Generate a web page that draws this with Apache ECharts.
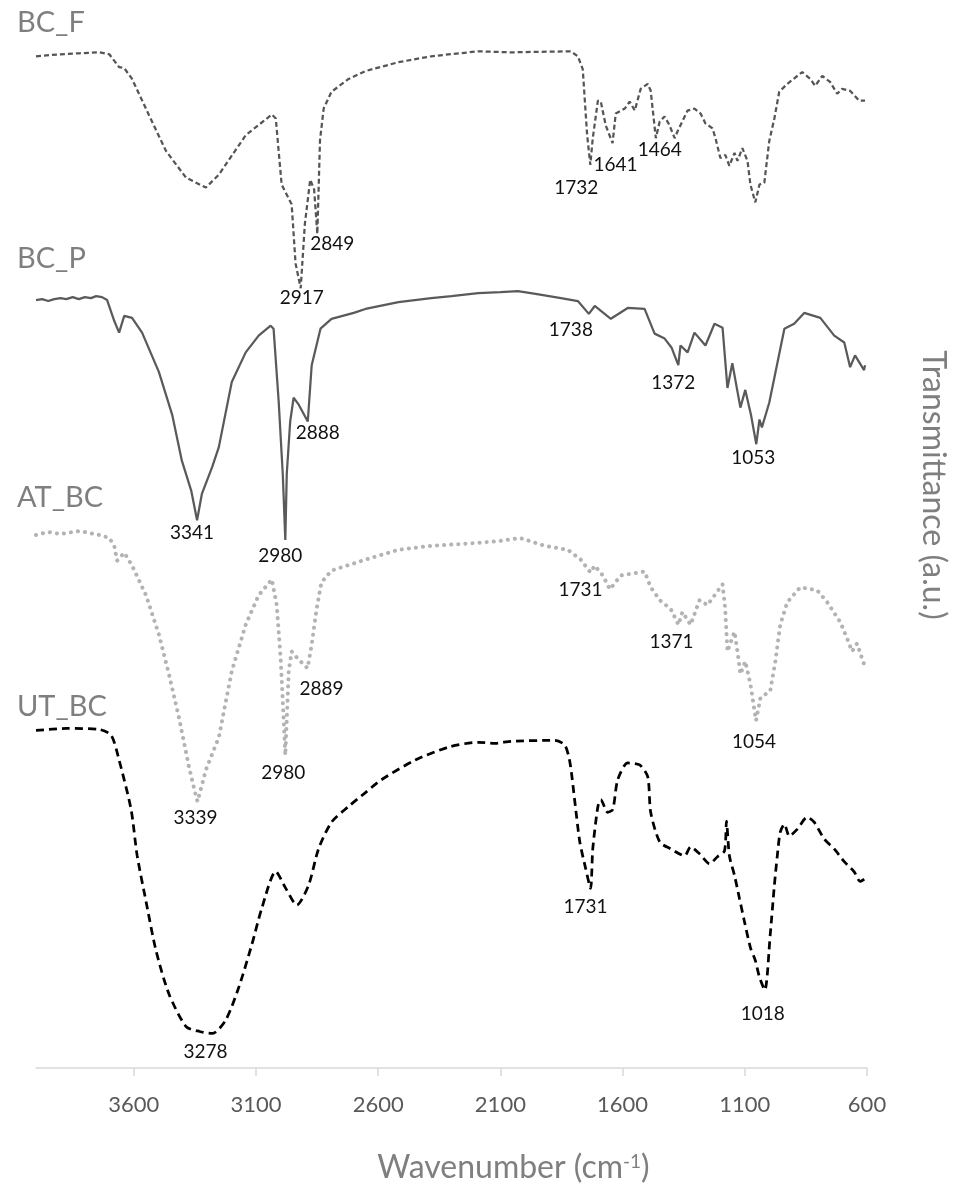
<!DOCTYPE html>
<html>
<head>
<meta charset="utf-8">
<title>FTIR spectra</title>
<script src="https://cdn.jsdelivr.net/npm/echarts@6/dist/echarts.min.js"></script>
<style>
  html, body { margin: 0; padding: 0; background: #ffffff; }
  #chart { width: 957px; height: 1189px; }
</style>
</head>
<body>
<div id="chart"></div>
<script>
// FTIR transmittance spectra, stacked with a vertical offset (a.u.), wavenumber in cm-1.
const seriesNames = ['BC_F', 'BC_P', 'AT_BC', 'UT_BC'];

const BC_F = [
  [4000,102.5],[3900,102.7],[3823,102.8],[3741,102.9],[3700,102.7],[3660,101.4],[3639,101.3],[3607,100.2],
  [3537,96.5],[3468,92.9],[3386,90.2],[3305,89.2],[3252,90.5],[3142,94.5],[3035,96.6],[3019,96.2],
  [2995,89.5],[2954,87.5],[2938,81.5],[2917,79.0],[2900,85.5],[2878,90.0],[2862,89.0],[2849,84.5],
  [2838,94.0],[2823,97.2],[2791,98.9],[2721,100.2],[2652,101.0],[2517,101.9],[2383,102.5],[2191,103.0],
  [2056,102.9],[1812,103.0],[1783,102.5],[1763,101.2],[1755,98.2],[1745,94.5],[1732,91.5],[1722,94.2],
  [1701,98.0],[1689,97.9],[1669,95.5],[1641,93.7],[1628,96.7],[1591,97.2],[1571,97.9],[1550,97.0],
  [1526,99.2],[1497,99.7],[1485,99.0],[1464,94.2],[1448,95.9],[1428,96.4],[1408,95.5],[1387,94.2],
  [1375,94.9],[1334,97.0],[1306,97.2],[1281,96.7],[1261,95.7],[1232,95.2],[1220,94.2],[1200,92.2],
  [1180,92.5],[1163,91.4],[1142,92.7],[1130,91.9],[1110,93.2],[1089,91.9],[1077,89.5],[1057,87.7],
  [1040,89.5],[1020,89.7],[1000,93.9],[979,96.2],[959,98.9],[926,99.7],[865,100.9],[832,100.2],
  [812,99.5],[783,100.5],[751,99.9],[722,98.7],[702,99.2],[669,99.0],[632,98.0],[608,98.0]
];

const BC_P = [
  [4000,77.8],[3975,77.9],[3950,77.7],[3925,77.9],[3900,78.0],[3876,77.9],[3850,78.1],[3825,77.9],
  [3800,78.1],[3775,78.0],[3754,78.2],[3730,78.1],[3709,77.8],[3680,75.7],[3660,74.5],[3639,76.2],
  [3607,76.0],[3566,74.5],[3497,70.5],[3443,66.2],[3403,61.5],[3365,58.5],[3341,55.5],[3321,58.2],
  [3279,60.9],[3252,62.9],[3199,69.5],[3142,72.5],[3089,74.2],[3040,75.2],[3028,74.9],[3007,67.5],
  [2990,60.0],[2980,53.5],[2974,60.2],[2960,65.5],[2946,67.9],[2925,67.2],[2888,65.5],[2872,71.2],
  [2836,74.9],[2791,75.9],[2700,76.5],[2652,76.9],[2517,77.6],[2383,78.0],[2300,78.2],[2191,78.5],
  [2100,78.6],[2028,78.7],[1950,78.4],[1852,78.0],[1783,77.7],[1738,76.4],[1714,77.2],[1648,75.9],
  [1579,77.0],[1510,76.9],[1469,74.4],[1428,73.9],[1400,73.0],[1372,71.2],[1363,73.2],[1334,72.5],
  [1306,74.5],[1261,73.2],[1224,75.4],[1191,75.0],[1171,68.9],[1151,71.4],[1118,66.9],[1098,68.7],
  [1075,66.2],[1053,63.2],[1040,65.7],[1030,64.9],[1000,67.4],[938,74.9],[898,75.4],[857,76.5],
  [791,76.0],[734,74.2],[693,73.5],[669,71.0],[649,72.2],[612,70.7],[608,71.2]
];

const AT_BC = [
  [4000,54.0],[3950,54.3],[3900,54.1],[3876,54.2],[3820,54.4],[3741,54.0],[3700,53.7],[3680,52.9],
  [3668,51.4],[3639,52.2],[3607,50.9],[3550,47.9],[3497,43.9],[3456,39.9],[3415,35.5],[3374,30.5],
  [3350,28.0],[3339,27.0],[3305,30.2],[3252,33.5],[3199,40.2],[3142,44.9],[3089,47.9],[3035,49.5],
  [3015,46.9],[2999,41.5],[2987,35.5],[2980,31.7],[2966,40.2],[2954,42.2],[2930,41.5],[2889,40.5],
  [2872,42.9],[2852,46.5],[2832,49.2],[2791,50.4],[2652,51.5],[2517,52.5],[2383,52.9],[2191,53.2],
  [2100,53.4],[2020,53.7],[1918,52.9],[1824,52.5],[1771,51.5],[1731,50.2],[1714,50.9],[1681,49.9],
  [1652,48.5],[1607,49.9],[1510,50.3],[1485,48.7],[1448,47.4],[1403,46.5],[1371,44.9],[1355,46.2],
  [1322,44.9],[1285,47.4],[1253,46.9],[1191,49.0],[1180,46.5],[1171,42.2],[1142,44.2],[1130,42.2],
  [1118,39.9],[1098,41.2],[1077,38.9],[1054,35.2],[1036,37.5],[996,38.2],[975,41.2],[955,44.9],
  [926,47.2],[873,48.7],[804,48.4],[763,47.2],[710,45.2],[681,43.5],[661,42.2],[641,43.0],
  [612,40.9],[608,41.4]
];

const UT_BC = [
  [4000,34.2],[3876,34.4],[3741,34.3],[3692,33.7],[3660,31.2],[3611,26.2],[3586,21.5],[3550,16.9],
  [3509,11.9],[3456,7.5],[3386,4.2],[3330,3.7],[3278,3.5],[3223,4.9],[3170,8.2],[3117,12.5],
  [3076,16.2],[3019,19.9],[2978,18.2],[2933,16.5],[2885,18.5],[2844,22.2],[2791,24.9],[2721,26.5],
  [2652,27.9],[2587,29.2],[2448,31.2],[2313,32.5],[2191,33.0],[2122,32.9],[2056,33.1],[1877,33.2],
  [1836,32.7],[1815,30.9],[1795,26.9],[1775,22.9],[1751,20.2],[1731,18.2],[1722,22.2],[1701,26.5],
  [1689,27.2],[1661,25.9],[1640,26.2],[1620,29.2],[1579,30.9],[1530,30.7],[1497,29.5],[1485,25.9],
  [1448,22.9],[1403,22.2],[1346,21.5],[1322,22.4],[1285,21.7],[1244,20.7],[1212,21.4],[1183,22.0],
  [1175,25.0],[1163,21.5],[1142,19.5],[1122,17.2],[1102,14.9],[1077,12.2],[1057,10.9],[1040,9.2],
  [1018,7.9],[996,13.5],[979,18.5],[967,21.5],[955,23.9],[938,24.7],[918,23.5],[885,24.2],
  [845,25.4],[816,24.9],[775,23.2],[734,22.2],[693,20.9],[653,19.9],[628,18.9],[608,19.2]
];

// Annotated band positions (cm-1) for each spectrum
const peaksBC_F = [2917, 2849, 1732, 1641, 1464];
const peaksBC_P = [3341, 2980, 2888, 1738, 1372, 1053];
const peaksAT_BC = [3339, 2980, 2889, 1731, 1371, 1054];
const peaksUT_BC = [3278, 1731, 1018];

const xTicks = [600, 1100, 1600, 2100, 2600, 3100, 3600];

// ---- styling ----
const FONT = 'Lato, "Open Sans", sans-serif';
const labelShift = {
  BC_F:  [[1,10],[15,10],[-14,23],[3,22],[4,12]],
  BC_P:  [[-5,13],[-5,16],[10,11],[-18,16],[-5,18],[-3,14]],
  AT_BC: [[-2,16],[-2,18],[14,21],[-10,17],[-7,17],[-2,21]],
  UT_BC: [[-7,18],[-5,19],[-2,24]]
};
const nameY = { BC_F: 26, BC_P: 262, AT_BC: 501, UT_BC: 710 };

function peakMarks(data, peaks, shifts) {
  return peaks.map((wn, i) => {
    const pt = data.find(d => d[0] === wn);
    return {
      coord: [pt[0], pt[1]],
      value: wn,
      label: { offset: shifts[i] }
    };
  });
}

function makeSeries(name, data, peaks, lineStyle, smooth) {
  return {
    name: name,
    type: 'line',
    data: data,
    showSymbol: false,
    symbol: 'none',
    smooth: smooth || false,
    lineStyle: lineStyle,
    z: 2,
    markPoint: {
      symbol: 'circle',
      symbolSize: 1,
      itemStyle: { color: 'rgba(0,0,0,0)' },
      silent: true,
      label: {
        show: true,
        position: 'inside',
        formatter: '{c}',
        color: '#111111',
        fontFamily: FONT,
        fontSize: 19
      },
      data: peakMarks(data, peaks, labelShift[name])
    }
  };
}

const chart = echarts.init(document.getElementById('chart'), null, { renderer: 'canvas' });

chart.setOption({
  animation: false,
  backgroundColor: '#ffffff',
  grid: { left: 36, right: 87, top: 0, bottom: 107, containLabel: false },
  xAxis: {
    type: 'value',
    min: 600,
    max: 4000,
    inverse: true,
    axisLine: { show: true, lineStyle: { color: '#d9d9d9', width: 1.5 } },
    axisTick: { show: true, length: 8, lineStyle: { color: '#d9d9d9', width: 1.5 }, customValues: xTicks },
    axisLabel: {
      customValues: xTicks,
      formatter: v => String(v),
      color: '#595959', fontFamily: FONT, fontSize: 22, margin: 26
    },
    splitLine: { show: false },
    name: '{a|Wavenumber (cm}{s|-1}{a|)}',
    nameLocation: 'middle',
    nameGap: 84,
    nameTextStyle: {
      padding: [0, 0, 0, 124],
      rich: {
        a: { fontFamily: FONT, fontSize: 32, color: '#7f7f7f' },
        s: { fontFamily: FONT, fontSize: 19, color: '#7f7f7f', verticalAlign: 'top' }
      }
    }
  },
  yAxis: {
    type: 'value',
    min: 0,
    max: 108.2,
    position: 'right',
    axisLine: { show: false },
    axisTick: { show: false },
    axisLabel: { show: false },
    splitLine: { show: false },
    name: 'Transmittance (a.u.)',
    nameLocation: 'middle',
    nameGap: 50,
    nameRotate: -90,
    nameTextStyle: {
      fontFamily: FONT, fontSize: 32, color: '#7f7f7f',
      padding: [0, 98, 0, 0]
    }
  },
  graphic: seriesNames.map(n => ({
    type: 'text',
    left: 17,
    top: nameY[n] - 18,
    style: { text: n, font: '29px ' + FONT, fill: '#7f7f7f' },
    silent: true
  })),
  series: [
    makeSeries('BC_F', BC_F, peaksBC_F, { color: '#555555', width: 2.25, type: [5, 3] }),
    makeSeries('BC_P', BC_P, peaksBC_P, { color: '#5a5a5a', width: 2.25, type: 'solid' }),
    makeSeries('AT_BC', AT_BC, peaksAT_BC, { color: '#b3b3b3', width: 4, type: [0.1, 7], cap: 'round' }),
    makeSeries('UT_BC', UT_BC, peaksUT_BC, { color: '#000000', width: 2.75, type: [8, 5] }, 0.25)
  ]
});
</script>
</body>
</html>
